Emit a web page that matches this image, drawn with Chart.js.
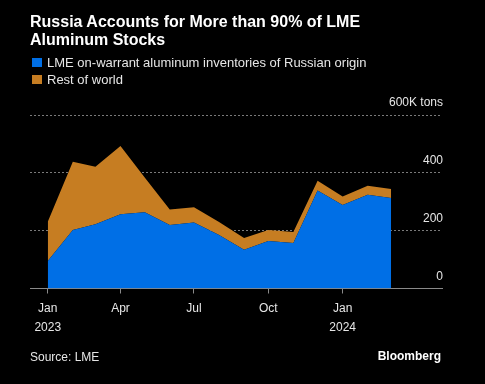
<!DOCTYPE html>
<html>
<head>
<meta charset="utf-8">
<script src="https://cdn.jsdelivr.net/npm/chart.js@4.4.1/dist/chart.umd.min.js"></script>
<style>
  html, body { margin: 0; padding: 0; background: #000; }
  body { width: 485px; height: 384px; position: relative; overflow: hidden; font-family: "Liberation Sans", Arial, sans-serif; }
  #chart { position: absolute; left: 0; top: 0; }
  .title { position: absolute; left: 30px; top: 13px; color: #fff; font-weight: bold; font-size: 16px; line-height: 18px; }
  .legend { position: absolute; left: 32px; top: 54px; color: #e6e6e6; font-size: 13px; line-height: 17px; }
  .legend div { position: relative; padding-left: 15px; white-space: nowrap; }
  .legend span { position: absolute; left: 0; top: 4px; width: 10px; height: 9px; }
  .source { position: absolute; left: 30px; top: 350px; color: #e6e6e6; font-size: 12px; }
  .brand { position: absolute; right: 44px; top: 349px; color: #fff; font-size: 12px; font-weight: bold; }
</style>
</head>
<body>
<canvas id="chart" width="485" height="384"></canvas>
<div class="title">Russia Accounts for More than 90% of LME<br>Aluminum Stocks</div>
<div class="legend">
  <div><span style="background:#006fe6"></span>LME on-warrant aluminum inventories of Russian origin</div>
  <div><span style="background:#c67d22"></span>Rest of world</div>
</div>
<div class="source">Source: LME</div>
<div class="brand">Bloomberg</div>
<script>
const BLUE = '#006fe6'
const ORANGE = '#c67d22'

// month starts, Jan 2023 .. Mar 2024
const months = ['2023-01-01', '2023-02-01', '2023-03-01', '2023-04-01', '2023-05-01', '2023-06-01',
    '2023-07-01', '2023-08-01', '2023-09-01', '2023-10-01', '2023-11-01', '2023-12-01',
    '2024-01-01', '2024-02-01', '2024-03-01']
// thousand tons
const russian = [95, 202, 222, 257, 264, 220, 228, 185, 134, 164, 157, 339, 289, 324, 313]
const restOfWorld = [136, 236, 199, 236, 120, 53, 53, 45, 41, 38, 38, 34, 29, 31, 31]

const xTickDates = ['2023-01-01', '2023-04-01', '2023-07-01', '2023-10-01', '2024-01-01']
const xTickLabels = [['Jan', '2023'], 'Apr', 'Jul', 'Oct', ['Jan', '2024']]
const yTickValues = [0, 200, 400, 600]
const yTickLabels = ['0', '200', '400', '600K tons']

const START = Date.UTC(2023, 0, 1)
const dayOf = (s) => {
    const p = s.split('-').map(Number)
    return (Date.UTC(p[0], p[1] - 1, p[2]) - START) / 86400000
}
const xDays = months.map(dayOf)
const xTickDays = xTickDates.map(dayOf)

const toPoints = (vals) => vals.map((v, i) => ({ x: xDays[i], y: v }))

const yLabelPlugin = {
    id: 'yLabels',
    afterDraw(chart) {
        const ctx = chart.ctx
        const y = chart.scales.y
        ctx.save()
        ctx.font = '12px "Liberation Sans", Arial, sans-serif'
        ctx.fillStyle = '#e6e6e6'
        ctx.textAlign = 'right'
        ctx.textBaseline = 'alphabetic'
        yTickValues.forEach((v, i) => {
            ctx.fillText(yTickLabels[i], chart.chartArea.right + 1, y.getPixelForValue(v) - 9)
        })
        ctx.restore()
    }
}

new Chart(document.getElementById('chart'), {
    type: 'line',
    data: {
        datasets: [
            {
                label: 'LME on-warrant aluminum inventories of Russian origin',
                data: toPoints(russian),
                backgroundColor: BLUE,
                borderWidth: 0,
                pointRadius: 0,
                fill: 'origin',
                tension: 0,
            },
            {
                label: 'Rest of world',
                data: toPoints(restOfWorld),
                backgroundColor: ORANGE,
                borderWidth: 0,
                pointRadius: 0,
                fill: '-1',
                tension: 0,
            },
        ],
    },
    options: {
        responsive: false,
        animation: false,
        layout: { padding: { left: 30, right: 43, top: 115, bottom: 0 } },
        plugins: { legend: { display: false }, tooltip: { enabled: false } },
        scales: {
            x: {
                type: 'linear',
                min: -22,
                max: 488,
                afterBuildTicks: (s) => { s.ticks = xTickDays.map(v => ({ value: v })) },
                afterFit: (s) => { s.height = 95.5 },
                ticks: {
                    autoSkip: false,
                    maxRotation: 0,
                    padding: 6,
                    color: '#e6e6e6',
                    font: { family: '"Liberation Sans", Arial, sans-serif', size: 12, lineHeight: 1.55 },
                    callback: (v) => {
                        const i = xTickDays.indexOf(v)
                        return i >= 0 ? xTickLabels[i] : ''
                    },
                },
                grid: { drawOnChartArea: false, drawTicks: true, tickLength: 5, color: '#8a8a8a' },
                border: { display: true, color: '#8a8a8a', width: 1 },
            },
            y: {
                stacked: true,
                min: 0,
                max: 600,
                position: 'right',
                afterBuildTicks: (s) => { s.ticks = yTickValues.map(v => ({ value: v })) },
                afterFit: (s) => { s.width = 0 },
                ticks: { display: false },
                grid: {
                    drawTicks: false,
                    color: (c) => c.tick && c.tick.value === 0 ? 'rgba(0,0,0,0)' : '#7a7a7a',
                },
                border: { display: false, dash: [2, 2] },
            },
        },
    },
    plugins: [yLabelPlugin],
})
</script>
</body>
</html>
